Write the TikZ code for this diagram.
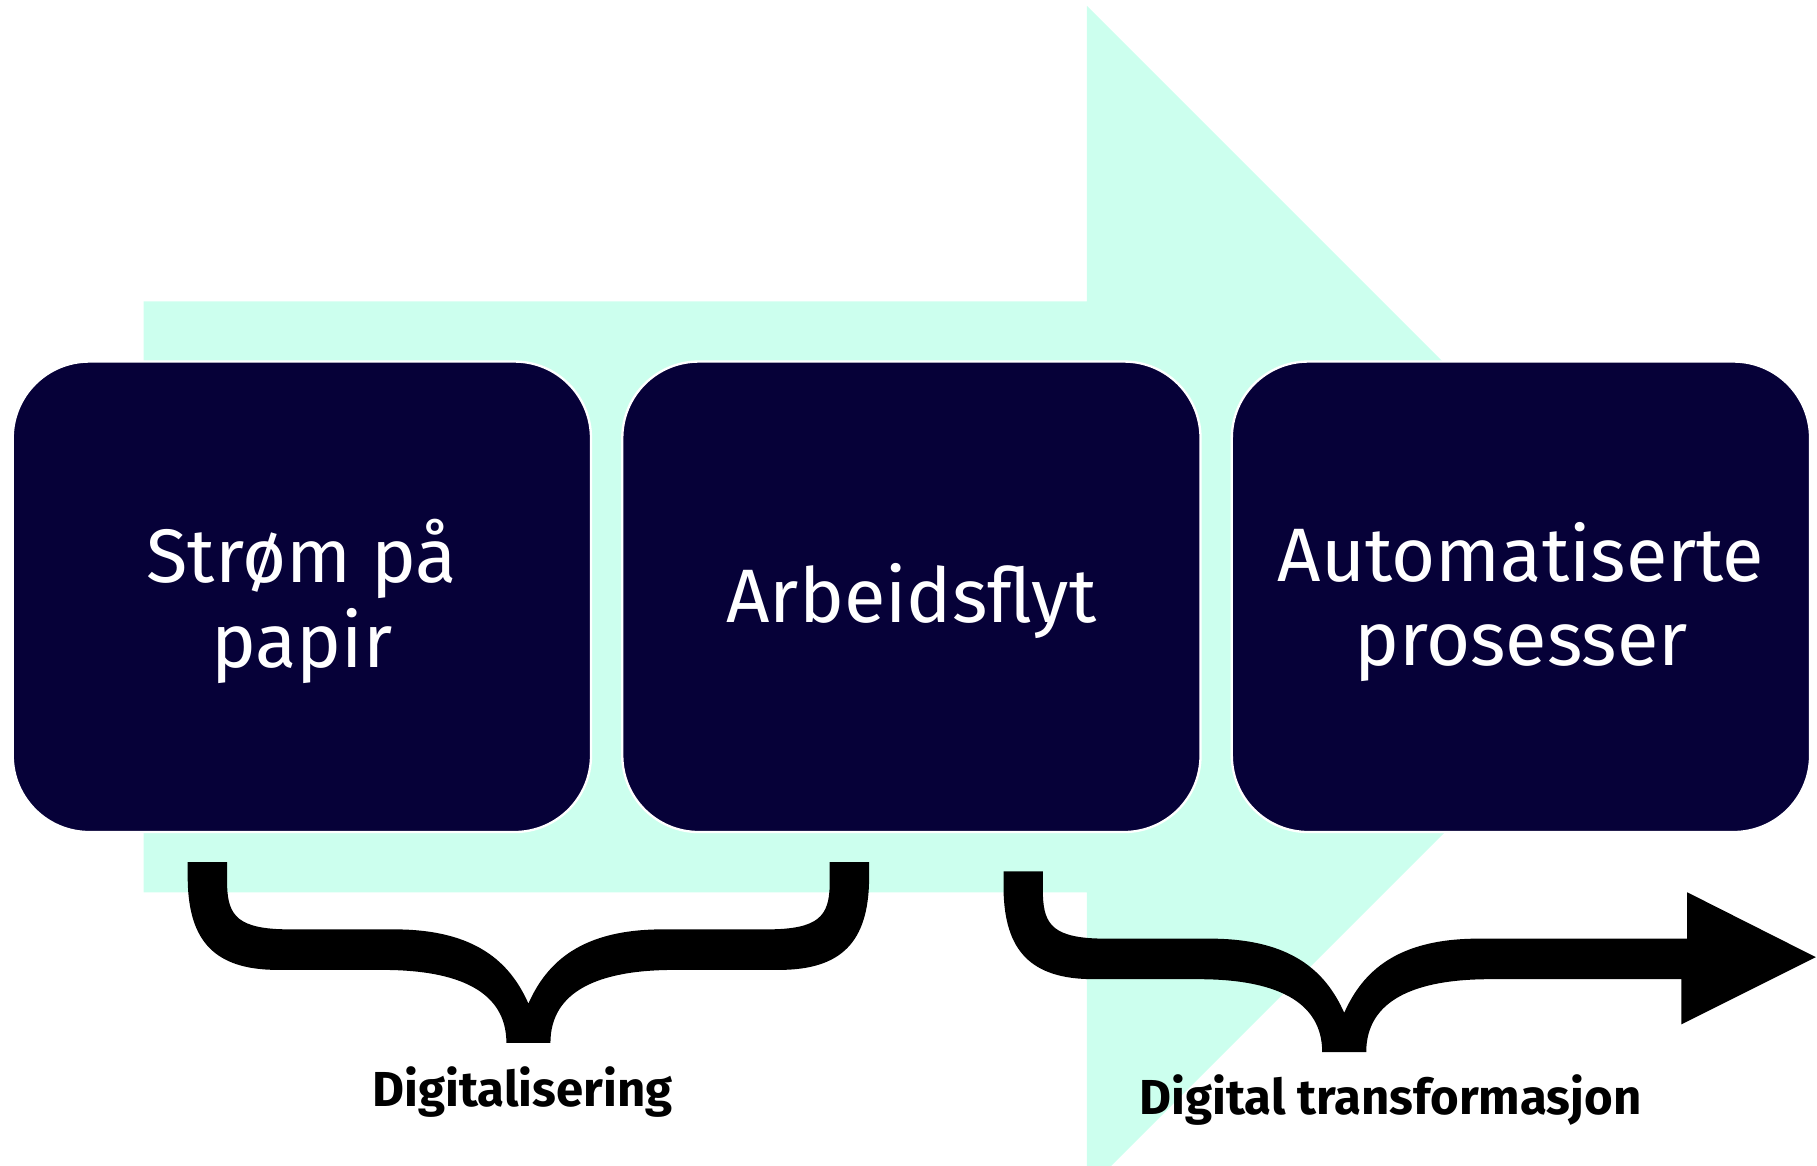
\documentclass[tikz,border=0pt]{standalone}
\usepackage{fontspec}
\setmainfont{Fira Sans}
\definecolor{mint}{RGB}{204,255,238}
\definecolor{navy}{RGB}{6,1,56}
\begin{document}
\begin{tikzpicture}[x=0.5pt,y=-0.5pt,
  stepbox/.style={draw=white,line width=1pt,fill=navy,rounded corners=33pt,
    minimum width=249.5pt,minimum height=203pt,inner sep=0pt},
  steptext/.style={inner sep=0pt,text=white,align=center,font=\fontsize{32.7}{36.5}\selectfont},
  phase/.style={anchor=base,inner sep=0pt,text=black,font=\fontsize{21.2}{26}\selectfont\bfseries},
  bracefill/.style={fill=black,draw=none}]
\useasboundingbox (0,0) rectangle (1568,1006);
\begin{scope}
\clip (0,0) rectangle (1568,1006);
\fill[mint] (124,260) -- (938,260) -- (938,5) -- (1449,516) -- (938,1027) -- (938,770) -- (124,770) -- cycle;
\end{scope}
\node[stepbox] (b1) at (260.5,515) {};
\node[stepbox] (b2) at (786.5,515) {};
\node[stepbox] (b3) at (1312.5,515) {};
\node[steptext] (t1) at ([yshift=-2pt]b1.center) {Strøm på\\papir};
\node[steptext] (t2) at ([yshift=-2pt]b2.center) {Arbeidsflyt};
\node[steptext] (t3) at ([yshift=-2.2pt]b3.center) {Automatiserte\\prosesser};
% brace 1
\fill[bracefill] (162,744) -- (162,760) .. controls (163,812) and (185,837) .. (240,837) -- (330,837)
  .. controls (395,837) and (437,855) .. (437,900) -- (475,900)
  .. controls (475,855) and (517,837) .. (582,837) -- (672,837)
  .. controls (727,837) and (749,812) .. (750,760) -- (750,744) -- (716,744) -- (716,765)
  .. controls (715,790) and (707,802) .. (662,802) -- (572,802)
  .. controls (502,802) and (472,830) .. (456,866)
  .. controls (440,830) and (410,802) .. (340,802) -- (250,802)
  .. controls (205,802) and (197,790) .. (196,765) -- (196,744) -- cycle;
% brace 2 with arrow
\fill[bracefill] (866,752) -- (866,768) .. controls (867,820) and (889,845) .. (944,845) -- (1034,845)
  .. controls (1099,845) and (1141,863) .. (1141,908) -- (1179,908)
  .. controls (1179,863) and (1221,845) .. (1286,845) -- (1451,845) -- (1451,884) -- (1567,826)
  -- (1456,770) -- (1456,810) -- (1276,810)
  .. controls (1206,810) and (1176,838) .. (1160,874)
  .. controls (1144,838) and (1114,810) .. (1044,810) -- (954,810)
  .. controls (909,810) and (901,798) .. (900,773) -- (900,752) -- cycle;
\node[phase] (l1) at (451,955) {Digitalisering};
\node[phase] (l2) at (1200,962) {Digital transformasjon};
\end{tikzpicture}
\end{document}
